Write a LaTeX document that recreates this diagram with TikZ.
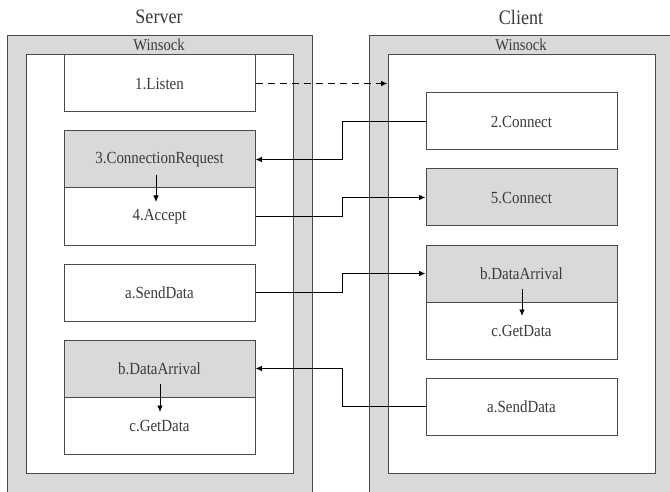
\documentclass[tikz,border=0pt]{standalone}
\usepackage{fontspec}
\setmainfont{Liberation Serif}[FakeStretch=0.88]
\usetikzlibrary{arrows.meta}
\definecolor{panel}{HTML}{D9D9D9}
\definecolor{edge}{HTML}{4A4A4A}
\definecolor{txt}{HTML}{3A3A3A}
\begin{document}
\begin{tikzpicture}[x=1pt,y=-1pt,
  box/.style={draw=edge,line width=1pt,minimum width=191pt,minimum height=57pt,inner sep=0pt,
    text=txt,font=\fontsize{17}{20}\selectfont},
  gbox/.style={box,fill=panel},
  wbox/.style={box,fill=white},
  conn/.style={draw=black,line width=0.9pt,-{Latex[length=6.5pt,width=5.5pt]}},
  title/.style={text=txt,font=\fontsize{20.5}{24}\selectfont,inner sep=0pt},
  wlabel/.style={text=txt,font=\fontsize{16.6}{20}\selectfont,inner sep=0pt}]
\useasboundingbox (0,0) rectangle (670,492);
\fill[white] (0,0) rectangle (670,492);
\begin{scope}
\clip (0,0) rectangle (670,492);
% outer panels
\draw[draw=edge,line width=1pt,fill=panel] (7,36) rectangle (312,520);
\draw[draw=edge,line width=1pt,fill=panel] (369,36) rectangle (674,520);
\end{scope}
% inner white panels
\node[draw=edge,line width=1pt,fill=white,minimum width=267pt,minimum height=418pt,inner sep=0pt] (sinner) at (159.5,264) {};
\node[draw=edge,line width=1pt,fill=white,minimum width=267pt,minimum height=418pt,inner sep=0pt] (cinner) at (521.5,264) {};
% titles
\node[title] (tserver) at (159,17) {Server};
\node[title] (tclient) at (521,17) {Client};
\node[wlabel] (wserver) at (159,45) {Winsock};
\node[wlabel] (wclient) at (521,45) {Winsock};
% server boxes
\node[wbox] (listen) at (159.5,83.5) {1.Listen};
\node[gbox] (creq) at (159.5,159.5) {3.ConnectionRequest};
\node[wbox] (accept) at (159.5,216.5) {4.Accept};
\node[wbox] (ssend) at (159.5,292.5) {a.SendData};
\node[gbox] (sarr) at (159.5,368.5) {b.DataArrival};
\node[wbox] (sget) at (159.5,425.5) {c.GetData};
% client boxes
\node[wbox] (conn2) at (521.5,121.5) {2.Connect};
\node[gbox] (conn5) at (521.5,197.5) {5.Connect};
\node[gbox] (carr) at (521.5,273.5) {b.DataArrival};
\node[wbox] (cget) at (521.5,330.5) {c.GetData};
\node[wbox] (csend) at (521.5,406.5) {a.SendData};
% elbow column
\coordinate (mx) at (342,0);
% connectors
\draw[conn,dashed,dash pattern=on 7pt off 5pt] (listen.east) -- (listen.east -| cinner.west);
\draw[conn] (conn2.west) -- (conn2.west -| mx) |- (creq.east);
\draw[conn] (accept.east) -- (accept.east -| mx) |- (conn5.west);
\draw[conn] (ssend.east) -- (ssend.east -| mx) |- (carr.west);
\draw[conn] (csend.west) -- (csend.west -| mx) |- (sarr.east);
% internal arrows
\draw[conn] ([xshift=-3.5pt,yshift=-15.5pt]creq.center) -- ([xshift=-3.5pt,yshift=14.5pt]accept.center);
\draw[conn] ([xshift=0.5pt,yshift=-15.5pt]sarr.center) -- ([xshift=0.5pt,yshift=13.5pt]sget.center);
\draw[conn] ([xshift=0.5pt,yshift=-15.5pt]carr.center) -- ([xshift=0.5pt,yshift=14.5pt]cget.center);
\end{tikzpicture}
\end{document}
